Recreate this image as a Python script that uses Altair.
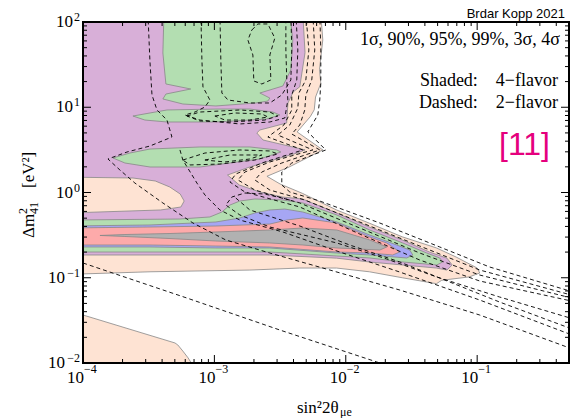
import altair as alt
import pandas as pd

W, H = 486, 341
SERIF = "Liberation Serif"
SANS = "Liberation Sans"

# Contour outlines, given as log10(sin^2 2theta_mue) and log10(dm^2_41 / eV^2)
# ---- 4-flavor fit (shaded) ----
PEACH_S = [-4.1, -2.19, -2.175, -2.20, -2.19, -2.23, -2.24, -2.27, -2.37, -2.175, -2.43, -2.60, -2.50,
           -2.33, -2.07, -1.82, -1.57, -1.31, -1.16, -1.00, -0.98, -1.06, -1.27, -1.31, -1.57, -1.82,
           -2.07, -2.35, -2.73, -3.49, -4.1]
PEACH_M = [2.1, 2.1, 1.79, 1.44, 1.28, 1.12, 0.97, 0.89, 0.71, 0.50, 0.30, 0.19, 0.10,
           -0.01, -0.205, -0.36, -0.52, -0.65, -0.757, -0.886, -0.944, -0.99, -1.03, -1.07, -1.00, -0.93,
           -0.886, -0.886, -0.91, -0.93, -0.96]
PEACH_LOW_S = [-4.1, -3.30, -3.278, -3.24, -3.20, -3.18, -3.15, -4.1]
PEACH_LOW_M = [-1.39, -1.765, -1.789, -1.86, -1.94, -1.99, -2.1, -2.1]
PEACH_BLOB_S = [-4.1, -3.62, -3.45, -3.34, -3.26, -3.23, -3.255, -3.34, -3.41, -4.1]
PEACH_BLOB_M = [0.18, 0.17, 0.135, 0.065, -0.018, -0.10, -0.17, -0.19, -0.205, -0.24]

PURPLE_S = [-4.1, -2.327, -2.31, -2.35, -2.40, -2.44, -2.45, -2.654, -2.677, -2.63, -2.31, -2.37, -2.73,
            -2.90, -2.81, -2.654, -2.48, -2.33, -2.07, -1.82, -1.57, -1.36, -1.23, -1.19, -1.23, -1.31,
            -1.57, -1.82, -2.07, -2.58, -3.49, -4.1]
PURPLE_M = [2.1, 2.1, 1.64, 1.24, 1.18, 1.05, 0.815, 0.733, 0.698, 0.616, 0.50, 0.463, 0.30,
            0.205, 0.088, 0.006, -0.053, -0.076, -0.24, -0.405, -0.557, -0.70, -0.77, -0.85, -0.91, -0.886,
            -0.85, -0.815, -0.77, -0.733, -0.733, -0.733]

GREEN_TOP_S = [-3.384, -3.392, -3.369, -3.18, -3.369, -3.392, -3.24, -2.989, -2.684, -2.593, -2.578,
               -2.654, -2.479, -2.418, -2.403, -2.426]
GREEN_TOP_M = [2.1, 1.636, 1.273, 1.214, 1.155, 1.097, 1.038, 1.015, 1.05, 1.073, 1.108,
               1.167, 1.249, 1.437, 1.789, 2.1]
GREEN_MID_S = [-3.62, -3.49, -3.361, -2.989, -2.73, -2.555, -2.502, -2.601, -2.981, -3.361, -3.529]
GREEN_MID_M = [0.897, 0.933, 0.968, 0.979, 0.979, 0.944, 0.909, 0.862, 0.827, 0.827, 0.85]
GREEN_LOW_S = [-3.772, -3.643, -3.49, -3.11, -2.73, -2.525, -2.494, -2.654, -3.11, -3.24, -3.49, -3.681]
GREEN_LOW_M = [0.405, 0.463, 0.51, 0.534, 0.534, 0.499, 0.475, 0.393, 0.299, 0.299, 0.299, 0.346]
GREEN_BAND_S = [-4.1, -3.262, -3.034, -2.943, -2.882, -2.806, -2.692, -2.479, -2.327, -2.068, -1.817,
                -1.567, -1.384, -1.285, -1.262, -1.308, -1.567, -1.817, -2.068, -2.578, -3.49, -4.1]
GREEN_BAND_M = [-0.323, -0.311, -0.287, -0.229, -0.147, -0.10, -0.076, -0.088, -0.123, -0.264, -0.44,
                -0.592, -0.71, -0.768, -0.815, -0.85, -0.815, -0.768, -0.745, -0.698, -0.698, -0.698]

BLUE_S = [-4.1, -3.49, -2.989, -2.806, -2.692, -2.578, -2.464, -2.327, -2.068, -1.817, -1.612, -1.513,
          -1.49, -1.536, -1.817, -2.068, -2.578, -2.989, -3.49, -4.1]
BLUE_M = [-0.393, -0.381, -0.346, -0.299, -0.24, -0.205, -0.194, -0.229, -0.346, -0.499, -0.616, -0.675,
          -0.733, -0.768, -0.733, -0.71, -0.651, -0.651, -0.639, -0.639]

RED_S = [-4.1, -3.49, -2.989, -2.578, -2.449, -2.327, -2.068, -1.817, -1.688, -1.589, -1.643, -1.817,
         -2.068, -2.578, -2.989, -3.49, -4.1]
RED_M = [-0.416, -0.405, -0.393, -0.37, -0.323, -0.299, -0.358, -0.522, -0.592, -0.698, -0.733, -0.71,
         -0.698, -0.639, -0.628, -0.616, -0.616]

GRAY_S = [-3.871, -3.681, -3.338, -2.989, -2.578, -2.327, -2.068, -1.817, -1.688, -1.741, -2.068, -2.327,
          -2.578, -2.989, -3.338, -3.681]
GRAY_M = [-0.504, -0.493, -0.481, -0.463, -0.44, -0.416, -0.44, -0.557, -0.639, -0.675, -0.651, -0.616,
          -0.592, -0.569, -0.54, -0.516]

# ---- 2-flavor fit (dashed) ----
D1_S = [-3.506, -3.491, -3.475, -3.437, -3.361, -3.323, -3.491, -3.665, -3.81, -3.719, -3.605, -3.392,
        -3.163, -2.913, -2.578, -2.122, -1.589, -0.981, -0.25]
D1_M = [2.1, 1.554, 1.144, 0.968, 0.85, 0.651, 0.545, 0.475, 0.393, 0.264, 0.111, -0.123,
        -0.358, -0.557, -0.71, -0.909, -1.144, -1.437, -1.85]
DA_S = [-4.1, -3.209, -2.502, -1.764, -1.54]
DA_M = [-0.775, -1.238, -1.613, -1.988, -2.1]
LE3_S = [-3.262, -3.24, -3.133, -3.072, -2.958, -2.806, -2.479, -2.046, -1.589, -0.981, -0.25]
LE3_M = [0.499, 0.381, 0.111, -0.029, -0.205, -0.323, -0.463, -0.698, -0.933, -1.261, -1.688]
LEX_S = [-2.426, -2.616, -2.768, -2.867, -2.913, -2.806, -2.578, -2.068, -1.688, -1.308, -0.829, -0.25]
LEX_M = [-0.088, -0.018, -0.006, -0.053, -0.147, -0.264, -0.405, -0.592, -0.78, -0.991, -1.226, -1.492]
LEY_S = [-2.837, -2.73, -2.35, -1.97, -1.589, -1.209, -0.829, -0.25]
LEY_M = [-0.065, -0.205, -0.393, -0.616, -0.815, -1.05, -1.285, -1.617]
T1_S = [-3.103, -3.095, -3.087, -3.034, -3.072, -3.148, -3.224, -3.11, -2.806, -2.578, -2.464, -2.441,
        -2.449, -2.456, -2.456]
T1_M = [2.1, 1.554, 1.238, 1.085, 1.003, 0.944, 0.909, 0.85, 0.804, 0.827, 0.874, 1.085, 1.32, 1.672, 2.1]
T2_S = [-2.958, -2.951, -2.943, -2.897, -2.73, -2.578, -2.487, -2.418, -2.411, -2.418]
T2_M = [2.1, 1.554, 1.167, 1.085, 1.05, 1.05, 1.144, 1.32, 1.672, 2.1]
W2_S = [-2.38, -2.365, -2.373, -2.411, -2.411, -2.471, -2.593, -2.327, -2.639, -2.837, -2.882, -2.768,
        -2.35, -1.894, -1.437, -0.981, -0.25]
W2_M = [2.1, 1.672, 1.32, 1.144, 0.968, 0.792, 0.651, 0.499, 0.346, 0.217, 0.123, 0.006,
        -0.17, -0.487, -0.792, -1.038, -1.284]
W3_S = [-2.304, -2.281, -2.304, -2.357, -2.365, -2.426, -2.517, -2.251, -2.578, -2.768, -2.821, -2.692,
        -2.35, -1.894, -1.437, -0.981, -0.25]
W3_M = [2.1, 1.672, 1.32, 1.167, 0.991, 0.792, 0.674, 0.499, 0.358, 0.24, 0.147, 0.029,
        -0.123, -0.416, -0.71, -0.968, -1.25]
W4_S = [-2.251, -2.236, -2.259, -2.304, -2.312, -2.35, -2.411, -2.198, -2.487, -2.639, -2.692, -2.578,
        -2.312, -1.894, -1.437, -0.981, -0.25]
W4_M = [2.1, 1.672, 1.32, 1.144, 0.968, 0.792, 0.686, 0.499, 0.346, 0.24, 0.147, 0.029,
        -0.088, -0.346, -0.628, -0.909, -1.217]
W5_S = [-2.198, -2.19, -2.19, -2.198, -2.213, -2.289, -2.152, -2.411, -2.487, -2.487, -2.426, -2.198,
        -1.741, -1.285, -0.905, -0.25]
W5_M = [2.1, 1.672, 1.284, 1.085, 0.909, 0.71, 0.499, 0.346, 0.24, 0.088, 0.006, -0.1,
        -0.358, -0.639, -0.874, -1.176]
LOOP0_S = [-2.715, -2.669, -2.593, -2.54, -2.578, -2.57, -2.639, -2.70, -2.707, -2.745]
LOOP0_M = [1.906, 1.977, 1.977, 1.812, 1.613, 1.32, 1.273, 1.308, 1.613, 1.789]
LOOP1_S = [-3.209, -3.11, -2.806, -2.578, -2.517, -2.616, -2.882, -3.11]
LOOP1_M = [0.897, 0.944, 0.968, 0.944, 0.897, 0.85, 0.827, 0.839]
LOOP2_S = [-2.996, -2.844, -2.639, -2.593, -2.73, -2.92]
LOOP2_M = [0.897, 0.933, 0.921, 0.886, 0.85, 0.85]
LOOP3_S = [-3.24, -3.072, -2.806, -2.578, -2.517, -2.692, -2.958, -3.186]
LOOP3_M = [0.381, 0.463, 0.499, 0.487, 0.452, 0.381, 0.334, 0.323]
LOOP4_S = [-3.072, -2.882, -2.639, -2.73, -2.92]
LOOP4_M = [0.381, 0.44, 0.44, 0.393, 0.358]

# axis decades
X_DECADES = [1e-4, 1e-3, 1e-2, 1e-1]
X_EXPONENTS = ["\u22124", "\u22123", "\u22122", "\u22121"]
Y_DECADES_POS = [1e2, 1e1, 1e0]
Y_EXPONENTS_POS = ["2", "1", "0"]
Y_DECADES_NEG = [1e-1, 1e-2]
Y_EXPONENTS_NEG = ["\u22121", "\u22122"]
X_MAX = 0.5

C_4S = "#fee3d3"
C_3S = "#d8afd8"
C_99 = "#b3deb1"
C_95 = "#a6a6f4"
C_90 = "#fdaaaa"
C_1S = "#b1b1b1"
EDGE = "#888888"

XS = alt.Scale(type="log", domain=[1e-4, X_MAX], nice=False)
YS = alt.Scale(type="log", domain=[1e-2, 1e2], nice=False)


def frame(pieces, closed):
    rows, k = [], 0
    for pid, (ls, lm) in enumerate(pieces):
        seq = list(zip(ls, lm))
        if closed[pid]:
            seq.append(seq[0])
        for a, b in seq:
            rows.append({"s": 10.0 ** a, "m": 10.0 ** b, "piece": pid, "i": k})
            k += 1
    return pd.DataFrame(rows)


def region(pieces, color):
    df = frame(pieces, [True] * len(pieces))
    return alt.Chart(df).mark_line(fill=color, stroke=EDGE, strokeWidth=0.8, clip=True).encode(
        x=alt.X("s:Q", scale=XS, axis=None),
        y=alt.Y("m:Q", scale=YS, axis=None),
        detail="piece:N",
        order="i:Q",
    )


fills = [
    region([(PEACH_S, PEACH_M), (PEACH_LOW_S, PEACH_LOW_M)], C_4S),
    region([(PURPLE_S, PURPLE_M)], C_3S),
    region([(PEACH_BLOB_S, PEACH_BLOB_M)], C_4S),
    region([(GREEN_TOP_S, GREEN_TOP_M), (GREEN_MID_S, GREEN_MID_M),
            (GREEN_LOW_S, GREEN_LOW_M), (GREEN_BAND_S, GREEN_BAND_M)], C_99),
    region([(BLUE_S, BLUE_M)], C_95),
    region([(RED_S, RED_M)], C_90),
    region([(GRAY_S, GRAY_M)], C_1S),
]

dash_pieces = [(D1_S, D1_M), (DA_S, DA_M), (LE3_S, LE3_M), (LEX_S, LEX_M), (LEY_S, LEY_M),
               (T1_S, T1_M), (T2_S, T2_M), (W2_S, W2_M), (W3_S, W3_M), (W4_S, W4_M), (W5_S, W5_M),
               (LOOP0_S, LOOP0_M), (LOOP1_S, LOOP1_M), (LOOP2_S, LOOP2_M), (LOOP3_S, LOOP3_M),
               (LOOP4_S, LOOP4_M)]
dash_closed = [False] * 11 + [True] * 5
dashed = alt.Chart(frame(dash_pieces, dash_closed)).mark_line(
    color="black", strokeWidth=0.9, strokeDash=[4, 3], clip=True
).encode(
    x=alt.X("s:Q", scale=XS, axis=None),
    y=alt.Y("m:Q", scale=YS, axis=None),
    detail="piece:N",
    order="i:Q",
)

# inward tick marks on all four sides
x_minor = [k * d for d in X_DECADES for k in range(2, 10) if k * d < X_MAX]
y_all_dec = [1e-2, 1e-1, 1e0, 1e1, 1e2]
y_minor = [k * d for d in y_all_dec[:-1] for k in range(2, 10)]


def xticks(vals, length):
    df = pd.DataFrame({"v": vals})
    out = []
    for y0, y1 in [(H, H - length), (0, length)]:
        out.append(alt.Chart(df).mark_rule(color="black", strokeWidth=1).encode(
            x=alt.X("v:Q", scale=XS, axis=None), y=alt.value(y0), y2=alt.value(y1)))
    return out


def yticks(vals, length):
    df = pd.DataFrame({"v": vals})
    out = []
    for x0, x1 in [(0, length), (W, W - length)]:
        out.append(alt.Chart(df).mark_rule(color="black", strokeWidth=1).encode(
            y=alt.Y("v:Q", scale=YS, axis=None), x=alt.value(x0), x2=alt.value(x1)))
    return out


ticks = (xticks(X_DECADES, 8) + xticks(x_minor, 4) +
         yticks(y_all_dec, 8) + yticks(y_minor, 4))

box = alt.Chart(alt.Data(values=[{}])).mark_rect(
    fillOpacity=0, stroke="black", strokeWidth=2
).encode(x=alt.value(0), x2=alt.value(W), y=alt.value(0), y2=alt.value(H))

# axis labels: "10" with a raised exponent
xlab_df = pd.DataFrame({"v": X_DECADES, "e": X_EXPONENTS})
x_base = alt.Chart(xlab_df).mark_text(
    text="10", align="right", baseline="alphabetic", dx=1, font=SERIF, fontSize=17, color="black"
).encode(x=alt.X("v:Q", scale=XS, axis=None), y=alt.value(H + 20))
x_exp = alt.Chart(xlab_df).mark_text(
    align="left", baseline="alphabetic", dx=1, font=SERIF, fontSize=12, color="black"
).encode(x=alt.X("v:Q", scale=XS, axis=None), y=alt.value(H + 10), text="e:N")

ypos_df = pd.DataFrame({"v": Y_DECADES_POS, "e": Y_EXPONENTS_POS})
yneg_df = pd.DataFrame({"v": Y_DECADES_NEG, "e": Y_EXPONENTS_NEG})
y_labels = []
for df, off in [(ypos_df, -10), (yneg_df, -18)]:
    y_labels.append(alt.Chart(df).mark_text(
        text="10", align="right", baseline="alphabetic", dy=5, font=SERIF, fontSize=17, color="black"
    ).encode(y=alt.Y("v:Q", scale=YS, axis=None), x=alt.value(off)))
    y_labels.append(alt.Chart(df).mark_text(
        align="right", baseline="alphabetic", dy=-1, font=SERIF, fontSize=12, color="black"
    ).encode(y=alt.Y("v:Q", scale=YS, axis=None), x=alt.value(-3), text="e:N"))


def label(txt, x, y, size=17, font=SERIF, align="left", color="black", angle=0, dx=0, dy=0):
    return alt.Chart(alt.Data(values=[{}])).mark_text(
        text=txt, align=align, baseline="alphabetic", font=font, fontSize=size,
        color=color, angle=angle, dx=dx, dy=dy
    ).encode(x=alt.value(x), y=alt.value(y))


texts = [
    # axis titles
    label("sin\u00b22\u03b8", 214, 391, size=17),
    label("\u03bce", 257, 394, size=12),
    label("\u0394m", -49, 216, size=17, angle=270),
    label("2", -49, 216, size=12, angle=270, dx=24, dy=-7),
    label("41", -49, 216, size=12, angle=270, dx=24, dy=4),
    label("[eV\u00b2]", -49, 216, size=17, angle=270, dx=50),
    # annotations
    label("Brdar Kopp 2021", 482, -4, size=13, font=SANS, align="right"),
    label("1\u03c3, 90%, 95%, 99%, 3\u03c3, 4\u03c3", 477, 23, size=18, align="right"),
    label("Shaded:\u20034\u2212flavor", 475, 64, size=18, align="right"),
    label("Dashed:\u20032\u2212flavor", 475, 86, size=18, align="right"),
    label("[11]", 467, 133, size=32, font=SANS, align="right", color="#e5007d"),
]

chart = alt.layer(
    *fills, dashed, *ticks, box, x_base, x_exp, *y_labels, *texts
).properties(
    width=W, height=H,
    padding={"left": 83, "top": 22, "right": 2, "bottom": 55},
    autosize=alt.AutoSizeParams(type="none"),
).configure_view(stroke=None)

chart.save("out.html", embed_options={"renderer": "svg", "actions": False})
